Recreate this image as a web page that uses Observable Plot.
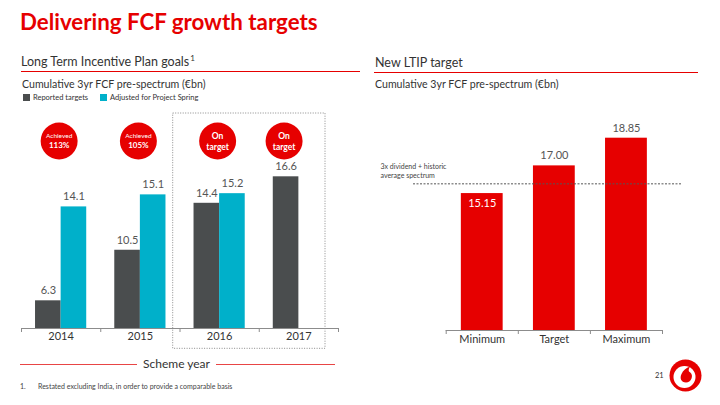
<!DOCTYPE html>
<html><head><meta charset="utf-8">
<script src="https://cdn.jsdelivr.net/npm/d3@7"></script>
<script src="https://cdn.jsdelivr.net/npm/@observablehq/plot@0.6"></script>
<style>
body{margin:0;width:720px;height:405px;position:relative;overflow:hidden;background:#fff;font-family:Lato,Roboto,sans-serif;color:#333}
.abs{position:absolute;white-space:nowrap}
.rule{position:absolute;height:1px;background:#e60000}
.sq{position:absolute;width:7px;height:7px}
#left,#right{position:absolute}
</style></head><body>
<div class="abs" style="left:20px;top:8px;font-size:22.3px;line-height:28px;font-weight:700;color:#e60000">Delivering FCF growth targets</div>

<div class="abs" style="left:21px;top:54px;font-size:12.5px;line-height:15px;color:#333">Long Term Incentive Plan goals<span style="font-size:8px;position:relative;top:-5px;margin-left:1px">1</span></div>
<div class="rule" style="left:21px;top:71px;width:339px"></div>
<div class="abs" style="left:22px;top:76.5px;font-size:10.6px;line-height:14px;color:#333">Cumulative 3yr FCF pre-spectrum (€bn)</div>
<div class="sq" style="left:23px;top:94px;background:#4a4d4e"></div>
<div class="abs" style="left:33px;top:92.5px;font-size:7.5px;line-height:10px;color:#333">Reported targets</div>
<div class="sq" style="left:99.5px;top:94px;background:#00b0ca"></div>
<div class="abs" style="left:110px;top:92.5px;font-size:7.5px;line-height:10px;color:#333">Adjusted for Project Spring</div>

<div class="abs" style="left:375px;top:54.5px;font-size:12.5px;line-height:15px;color:#333">New LTIP target</div>
<div class="rule" style="left:374px;top:71.5px;width:324px"></div>
<div class="abs" style="left:375px;top:77px;font-size:10.6px;line-height:14px;color:#333">Cumulative 3yr FCF pre-spectrum (€bn)</div>

<div id="left" style="left:0;top:108px"></div>
<div id="right" style="left:360px;top:110px"></div>

<div class="rule" style="left:20px;top:363.5px;width:117px;height:1.5px;background:#e84545"></div>
<div class="rule" style="left:216px;top:363.5px;width:119px;height:1.5px;background:#e84545"></div>
<div class="abs" style="left:176.5px;top:364px;transform:translate(-50%,-50%);font-size:12px;line-height:14px;color:#333">Scheme year</div>

<div class="abs" style="left:20px;top:381px;font-size:7px;line-height:10px;color:#444">1.</div>
<div class="abs" style="left:38px;top:381px;font-size:7px;line-height:10px;color:#444">Restated excluding India, in order to provide a comparable basis</div>

<div class="abs" style="left:655px;top:370.5px;font-size:7.5px;line-height:10px;color:#333">21</div>
<svg class="abs" style="left:669px;top:359px" width="33" height="33" viewBox="0 0 33 33">
  <circle cx="16.5" cy="16.5" r="16" fill="#e60000"/>
  <circle cx="15.5" cy="18" r="11" fill="#fff"/>
  <path d="M17,23.5 C12,23.5 10.5,19 12.5,15 C14,11.5 17,9 21,7.5 C19.5,10 19.5,11.5 20,12.5 C23,14 23.5,17 22.5,19.5 C21.5,22 19.5,23.5 17,23.5Z" fill="#e60000"/>
</svg>

<script>
// ---- Left chart data ----
const years = [2014, 2015, 2016, 2017];
const reported = [6.3, 10.5, 14.4, 16.6];
const adjusted = [14.1, 15.1, 15.2, null];
const badgeTop = ["Achieved", "Achieved", "On", "On"];
const badgeBottom = ["113%", "105%", "target", "target"];
const highlightYears = [2016, 2017];

// ---- Right chart data ----
const categories = ["Minimum", "Target", "Maximum"];
const ltip = [15.15, 17.00, 18.85];
const threshold = 15.8;
const thresholdLabel = "3x dividend + historic\naverage spectrum";

const grey = "#4a4d4e", cyan = "#00b0ca", red = "#e60000", axisGrey = "#8c8c8c";
const font = "Lato, Roboto, sans-serif";

const rep = years.map((year, i) => ({year, value: reported[i]}));
const adj = years.map((year, i) => ({year, value: adjusted[i]})).filter(d => d.value != null);
const badges = years.map((year, i) => ({year, top: badgeTop[i], bottom: badgeBottom[i], solo: adjusted[i] == null}));
const bounds = years.map(y => y - 0.5).concat([years[years.length - 1] + 0.5]);
const bw = 0.323;
const yBaseL = 4;
const badgeX = d => d.solo ? d.year - bw / 2 : d.year;

const leftPlot = Plot.plot({
  width: 360, height: 250,
  marginLeft: 21, marginRight: 22, marginTop: 3.3, marginBottom: 30,
  style: {fontFamily: font, fontSize: "11px", color: "#333", background: "transparent", overflow: "visible"},
  x: {domain: [bounds[0], bounds[bounds.length - 1]]},
  y: {domain: [yBaseL, 22], axis: null},
  marks: [
    Plot.rect([highlightYears], {x1: d => d[0] - 0.5, x2: d => d[1] + 0.5, insetLeft: -6.8, insetRight: 13, insetTop: 1.7, insetBottom: -20.3, fill: "none", stroke: "#8a8a8a", strokeDasharray: "1,1.5"}),
    Plot.rect(rep, {x1: d => d.year - bw, x2: d => d.year, y1: yBaseL, y2: "value", fill: grey}),
    Plot.rect(adj, {x1: d => d.year, x2: d => d.year + bw, y1: yBaseL, y2: "value", fill: cyan}),
    Plot.ruleY([yBaseL], {stroke: axisGrey}),
    Plot.axisX({ticks: bounds, tickSize: 4, tickFormat: () => "", stroke: axisGrey, label: null}),
    Plot.axisX({ticks: years, tickSize: 0, tickPadding: 4, tickFormat: d => String(d), fontSize: 11, fill: "#333", label: null}),
    Plot.text(rep, {x: d => d.year - bw / 2, y: "value", text: d => d.value.toFixed(1), dy: -10, fill: "#555", fontSize: 11}),
    Plot.text(adj, {x: d => d.year + bw / 2, y: "value", text: d => d.value.toFixed(1), dy: -10, fill: "#555", fontSize: 11}),
    Plot.dot(badges, {x: badgeX, frameAnchor: "top", dy: 29.2, dx: -2, r: 18.5, fill: red, stroke: null}),
    Plot.text(badges.filter(d => d.top === "Achieved"), {x: badgeX, frameAnchor: "top", lineAnchor: "middle", dy: 24, dx: -2, text: "top", fill: "#fff", fontSize: 6.5}),
    Plot.text(badges.filter(d => d.top === "Achieved"), {x: badgeX, frameAnchor: "top", lineAnchor: "middle", dy: 34, dx: -2, text: "bottom", fill: "#fff", fontSize: 8, fontWeight: "bold"}),
    Plot.text(badges.filter(d => d.top !== "Achieved"), {x: badgeX, frameAnchor: "top", lineAnchor: "middle", dy: 24, dx: -2, text: "top", fill: "#fff", fontSize: 8.5, fontWeight: "bold"}),
    Plot.text(badges.filter(d => d.top !== "Achieved"), {x: badgeX, frameAnchor: "top", lineAnchor: "middle", dy: 35, dx: -2, text: "bottom", fill: "#fff", fontSize: 8.5, fontWeight: "bold"})
  ]
});
document.getElementById("left").append(leftPlot);

const ltipData = categories.map((c, i) => ({c, i, value: ltip[i]}));
const yBaseR = 6;
const rw = 0.29;
const rightPlot = Plot.plot({
  width: 360, height: 250,
  marginLeft: 85.7, marginRight: 58, marginTop: 3, marginBottom: 30,
  style: {fontFamily: font, fontSize: "11px", color: "#333", background: "transparent", overflow: "visible"},
  x: {domain: [-0.5, categories.length - 0.5]},
  y: {domain: [yBaseR, 20.5], axis: null},
  marks: [
    Plot.rect(ltipData, {x1: d => d.i - rw, x2: d => d.i + rw, y1: yBaseR, y2: "value", fill: red}),
    Plot.ruleY([yBaseR], {stroke: axisGrey}),
    Plot.axisX({ticks: d3.range(categories.length + 1).map(i => i - 0.5), tickSize: 4, tickFormat: () => "", stroke: axisGrey, label: null}),
    Plot.axisX({ticks: d3.range(categories.length), tickSize: 0, tickPadding: 4.5, tickFormat: i => categories[i], fontSize: 11, fill: "#333", label: null}),
    Plot.ruleY([threshold], {stroke: "#555", strokeDasharray: "2,1.5", insetLeft: -32.7, insetRight: -19.7}),
    Plot.text([thresholdLabel], {y: threshold, text: d => d, frameAnchor: "left", textAnchor: "start", lineAnchor: "bottom", dx: -65.7, dy: -5.5, fontSize: 7, fill: "#444", lineHeight: 1.35}),
    Plot.text(ltipData.filter((d, k) => k > 0), {x: "i", y: "value", text: d => d.value.toFixed(2), dy: -10, fill: "#555", fontSize: 11}),
    Plot.text(ltipData.filter((d, k) => k === 0), {x: "i", y: "value", text: d => d.value.toFixed(2), dy: 10, fill: "#fff", fontSize: 11})
  ]
});
document.getElementById("right").append(rightPlot);
</script>
</body></html>
